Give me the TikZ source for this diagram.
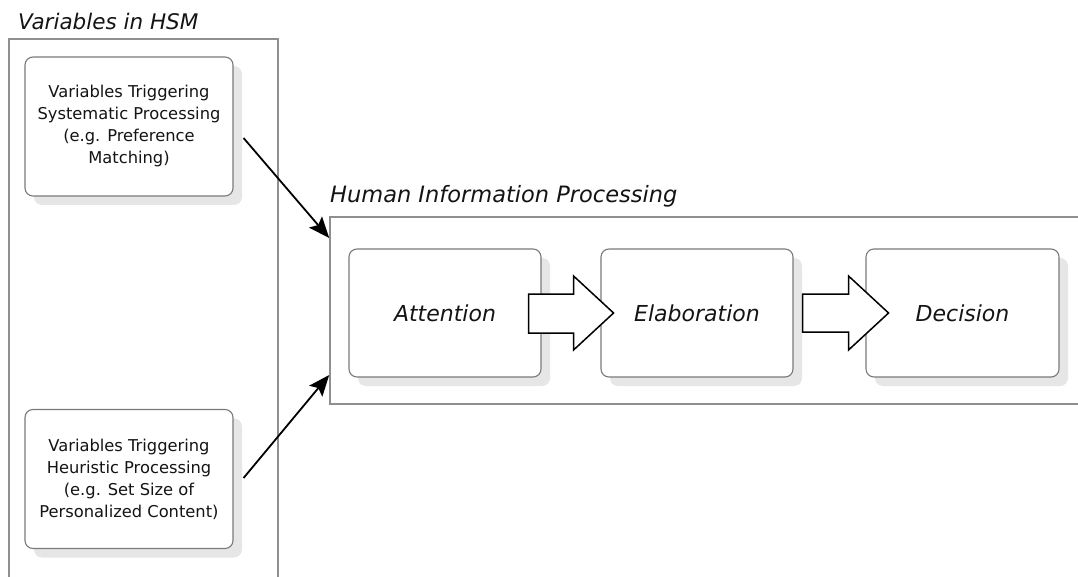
\documentclass[tikz,border=0pt]{standalone}
\usepackage{fontspec}
\setmainfont{DejaVu Sans}
\usetikzlibrary{calc,arrows.meta,shadows}
\definecolor{framegray}{HTML}{8F8F8F}
\definecolor{boxgray}{HTML}{7A7A7A}
\definecolor{shadowgray}{HTML}{E6E6E6}
\definecolor{inktext}{HTML}{141414}

\begin{document}
\begin{tikzpicture}[x=1pt,y=-1pt,
  frame/.style={draw=framegray,line width=1.6pt},
  grouptitle/.style={anchor=base west,inner sep=0pt,text=inktext,
     font=\fontsize{21.5}{26}\selectfont\itshape},
  stagebox/.style={draw=boxgray,line width=1.1pt,fill=white,rounded corners=8pt,
     drop shadow={shadow xshift=9pt,shadow yshift=-9pt,fill=shadowgray,opacity=1},
     inner sep=0pt,align=center,text=inktext},
  varbox/.style={stagebox,minimum width=208pt,minimum height=139pt,
     font=\fontsize{16.3}{22}\selectfont},
  stepbox/.style={stagebox,minimum width=192pt,minimum height=128pt,
     font=\fontsize{22}{26}\selectfont\itshape},
  blockarrow/.style={draw=black,line width=1.5pt,fill=white,line join=miter},
  conn/.style={draw=black,line width=1.8pt,
     -{Stealth[length=21pt,width=17pt,inset=4pt]}}
]
\useasboundingbox (0,0) rectangle (1078,577);
\clip (0,0) rectangle (1078,577);

% group frames (both run off the edge of the page)
\node[frame,minimum width=269pt,minimum height=560pt,inner sep=0pt] (hsm) at (143.5,319) {};
\node[frame,fill=white,minimum width=760pt,minimum height=187pt,inner sep=0pt] (hip) at (710,310.5) {};

\node[grouptitle] (hsmtitle) at (18,30) {Variables in HSM};
\node[grouptitle,font=\fontsize{22.5}{26}\selectfont\itshape] (hiptitle) at (330,203) {Human Information Processing};

% variables
\node[varbox] (sys) at (129,126.5) {Variables Triggering\\Systematic Processing\\(e.g. Preference\\Matching)};
\node[varbox] (heu) at (129,479) {Variables Triggering\\Heuristic Processing\\(e.g. Set Size of\\Personalized Content)};

% processing stages
\node[stepbox] (att) at (445,313) {Attention};
\node[stepbox] (ela) at (697,313) {Elaboration};
\node[stepbox,minimum width=193pt] (dec) at (962.5,313) {Decision};

% block arrows between stages
\draw[blockarrow] ($(att.east)+(-13,-19)$) -- ($(att.east)+(32,-19)$) -- ($(att.east)+(32,-37)$)
  -- ($(att.east)+(72,0)$) -- ($(att.east)+(32,37)$) -- ($(att.east)+(32,20)$)
  -- ($(att.east)+(-13,20)$) -- cycle;
\draw[blockarrow] ($(ela.east)+(9,-19)$) -- ($(ela.east)+(55,-19)$) -- ($(ela.east)+(55,-37)$)
  -- ($(ela.east)+(95,0)$) -- ($(ela.east)+(55,37)$) -- ($(ela.east)+(55,19)$)
  -- ($(ela.east)+(9,19)$) -- cycle;

% influences on processing
\draw[conn] ($(sys.east)+(10,11.5)$) -- ($(hip.west)+(0,-72.5)$);
\draw[conn] ($(heu.east)+(10,-1)$) -- ($(hip.west)+(0,64.5)$);
\end{tikzpicture}
\end{document}
